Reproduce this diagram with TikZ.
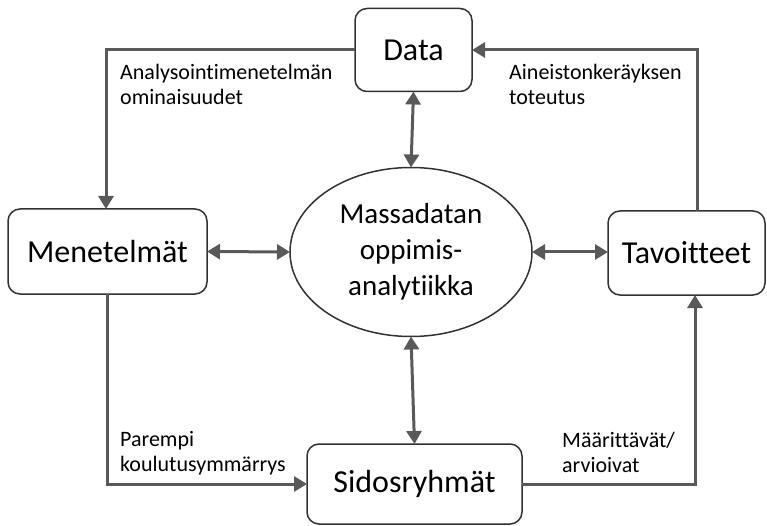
\documentclass[tikz,border=0pt]{standalone}
\usepackage{fontspec}
\setmainfont{Carlito}[Ligatures={NoCommon,TeX}]
\usetikzlibrary{arrows.meta,shapes.geometric}
\definecolor{lc}{RGB}{89,89,89}
\definecolor{bc}{RGB}{50,50,50}
\begin{document}
\begin{tikzpicture}[x=1pt,y=-1pt,
  box/.style={draw=bc,line width=1.5pt,rounded corners=12pt,fill=white,
    font=\fontsize{32}{38}\selectfont,text=black,inner sep=0pt,outer sep=0pt},
  conn/.style={draw=lc,line width=3pt},
  tri/.tip={Triangle[length=13pt,width=15pt]},
  lab/.style={font=\fontsize{22}{25}\selectfont,align=left,inner sep=0pt,anchor=north west,text=black}]
\useasboundingbox (0,0) rectangle (767,526);
\node[box,minimum width=117pt,minimum height=83pt] (data) at (413.5,50) {Data};
\node[box,minimum width=199pt,minimum height=85pt] (men) at (107.5,251.5) {Menetelmät};
\node[box,minimum width=157pt,minimum height=84pt] (tav) at (686.5,253) {Tavoitteet};
\node[box,minimum width=215pt,minimum height=80pt] (sid) at (414.5,484) {Sidosryhmät};
\node[ellipse,draw=bc,line width=1.5pt,minimum width=242pt,minimum height=169pt,inner sep=0pt,outer sep=0pt,
  align=center,font=\fontsize{29}{36}\selectfont] (ell) at (411,252) {Massadatan\\oppimis-\\analytiikka};
\coordinate (tavN) at ([xshift=10.5pt]tav.north);
\coordinate (tavS) at ([xshift=8.5pt]tav.south);
\coordinate (menN) at ([xshift=-1.5pt]men.north);
\draw[conn,-tri] (data.west) -| (menN);
\draw[conn,-tri] (tavN) |- (data.east);
\draw[conn,-tri] (men.south) |- (sid.west);
\draw[conn,-tri] (sid.east) -| (tavS);
\draw[conn,tri-tri] (data.south) -- (ell.north);
\draw[conn,tri-tri] (ell.south) -- (sid.north);
\draw[conn,tri-tri] (men.east) -- (ell.west);
\draw[conn,tri-tri] (ell.east) -- (ell.east -| tav.west);
\node[lab] (l1) at (120,64) {Analysointimenetelmän\\ominaisuudet};
\node[lab] (l2) at (509,64) {Aineistonkeräyksen\\toteutus};
\node[lab] (l3) at (120,431) {Parempi\\koulutusymmärrys};
\node[lab] (l4) at (562,432) {Määrittävät/\\arvioivat};
\end{tikzpicture}
\end{document}
